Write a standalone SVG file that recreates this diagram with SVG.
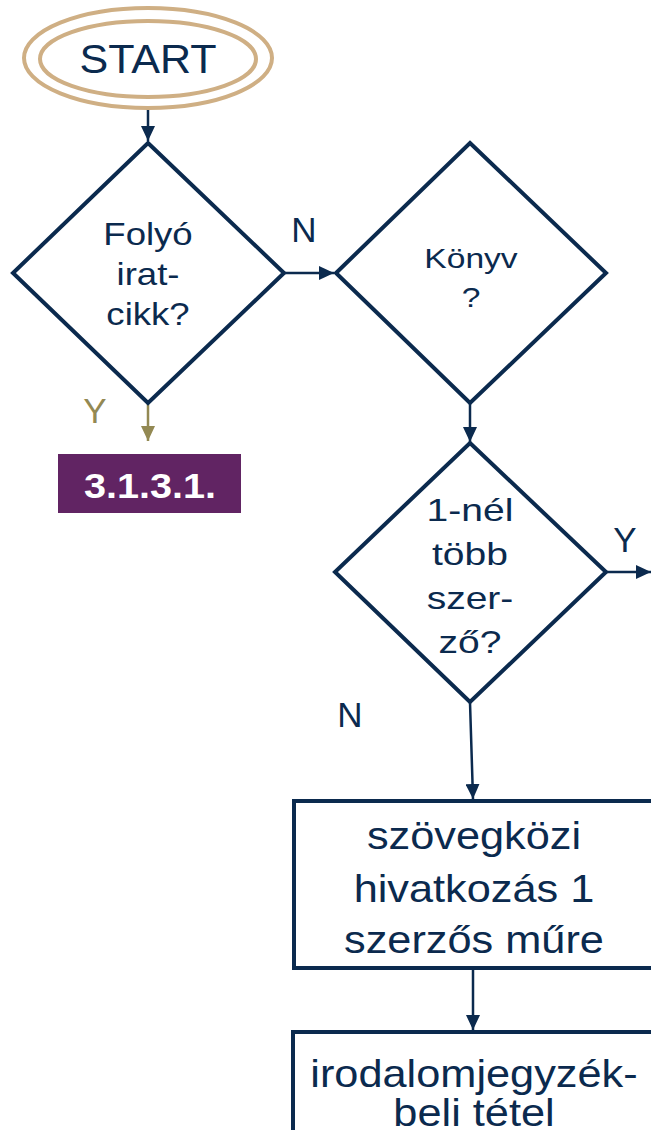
<svg xmlns="http://www.w3.org/2000/svg" width="651" height="1130" viewBox="0 0 651 1130">
<style>
  .shape{fill:#fff;stroke:#0B2A4E;stroke-width:4;stroke-linejoin:miter}
  .t{font-family:"Liberation Sans",Arial,sans-serif;fill:#0B2A4E;text-anchor:middle}
  .c{stroke:#0B2A4E;stroke-width:2.5;fill:none}
  .g{stroke:#938953;stroke-width:2.5;fill:none}
</style>
<defs>
  <marker id="ah" markerWidth="16" markerHeight="14" refX="15" refY="7" orient="auto" markerUnits="userSpaceOnUse">
    <path d="M0,0 L15,7 L0,14 Z" fill="#0B2A4E"/>
  </marker>
  <marker id="ahg" markerWidth="16" markerHeight="14" refX="15" refY="7" orient="auto" markerUnits="userSpaceOnUse">
    <path d="M0,0 L15,7 L0,14 Z" fill="#938953"/>
  </marker>
</defs>
<rect width="651" height="1130" fill="#fff"/>
<g id="connectors">
  <line class="c" x1="148" y1="108" x2="148" y2="141" marker-end="url(#ah)"/>
  <line class="c" x1="284" y1="273" x2="334" y2="273" marker-end="url(#ah)"/>
  <line class="g" x1="148" y1="403" x2="148" y2="441" marker-end="url(#ahg)"/>
  <line class="c" x1="470" y1="403" x2="470" y2="442" marker-end="url(#ah)"/>
  <line class="c" x1="606" y1="572" x2="651" y2="572" marker-end="url(#ah)"/>
  <line class="c" x1="470" y1="702" x2="473" y2="799" marker-end="url(#ah)"/>
  <line class="c" x1="473" y1="969" x2="473" y2="1030" marker-end="url(#ah)"/>
  <text class="t" x="304" y="242" font-size="35">N</text>
  <text class="t" x="95" y="423" font-size="35" style="fill:#938953">Y</text>
  <text class="t" x="625" y="552" font-size="35">Y</text>
  <text class="t" x="350" y="727" font-size="35">N</text>
</g>
<g id="start">
  <ellipse cx="148" cy="58" rx="124" ry="50" fill="#fff" stroke="#CFAF84" stroke-width="4"/>
  <ellipse cx="148" cy="59" rx="108" ry="38" fill="#fff" stroke="#CFAF84" stroke-width="4"/>
  <text class="t" transform="translate(148,73) scale(1.05,1)" font-size="41">START</text>
</g>
<g id="d1">
  <polygon class="shape" points="148,143 284,273 148,403 13,273"/>
  <text class="t" transform="translate(148,245) scale(1.18,1)" font-size="31">Folyó</text>
  <text class="t" transform="translate(148,285) scale(1.18,1)" font-size="31">irat-</text>
  <text class="t" transform="translate(148,325) scale(1.18,1)" font-size="31">cikk?</text>
</g>
<g id="d2">
  <polygon class="shape" points="470,143 606,273 470,403 336,273"/>
  <text class="t" transform="translate(471,268) scale(1.2,1)" font-size="28">Könyv</text>
  <text class="t" transform="translate(471,307) scale(1.2,1)" font-size="28">?</text>
</g>
<g id="ref">
  <rect x="58" y="454" width="183" height="59" fill="#612463"/>
  <text class="t" transform="translate(150,498) scale(1.1,1)" font-size="36" font-weight="bold" style="fill:#fff">3.1.3.1.</text>
</g>
<g id="d3">
  <polygon class="shape" points="470,443 606,572 470,702 335,572"/>
  <text class="t" transform="translate(470,521) scale(1.22,1)" font-size="32">1-nél</text>
  <text class="t" transform="translate(470,565) scale(1.22,1)" font-size="32">több</text>
  <text class="t" transform="translate(470,609) scale(1.22,1)" font-size="32">szer-</text>
  <text class="t" transform="translate(470,653) scale(1.22,1)" font-size="32">ző?</text>
</g>
<g id="box1">
  <rect class="shape" x="294" y="801" width="370" height="167" stroke-width="4.5"/>
  <text class="t" transform="translate(474,849) scale(1.14,1)" font-size="38">szövegközi</text>
  <text class="t" transform="translate(474,902) scale(1.14,1)" font-size="38">hivatkozás 1</text>
  <text class="t" transform="translate(474,953) scale(1.14,1)" font-size="38">szerzős műre</text>
</g>
<g id="box2">
  <rect class="shape" x="293" y="1032" width="370" height="120" stroke-width="4.5"/>
  <text class="t" transform="translate(474,1087) scale(1.14,1)" font-size="38">irodalomjegyzék-</text>
  <text class="t" transform="translate(474,1126) scale(1.14,1)" font-size="38">beli tétel</text>
</g>
</svg>
